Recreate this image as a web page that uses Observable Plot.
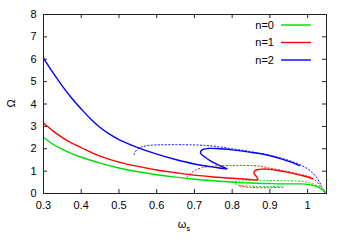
<!DOCTYPE html>
<html><head><meta charset="utf-8">
<script src="https://cdn.jsdelivr.net/npm/d3@7"></script>
<script src="https://cdn.jsdelivr.net/npm/@observablehq/plot@0.6"></script>
<style>
body{margin:0;background:#fff}
svg{font-family:"Liberation Sans",Arial,sans-serif}
</style>
</head><body><div id="chart"></div>
<script>
const omegaTicks = [0.3, 0.4, 0.5, 0.6, 0.7, 0.8, 0.9, 1.0];
const qTicks = [0, 1, 2, 3, 4, 5, 6, 7, 8];
const seriesNames = ["n=0", "n=1", "n=2"];
const seriesColors = ["#00dd00", "#ff0000", "#0000ff"];

// [omega_s, Omega] pairs
const n0Solid = [[0.3,2.5],[0.325,2.2],[0.35,1.97],[0.375,1.78],[0.4,1.62],[0.45,1.36],[0.5,1.14],[0.55,0.97],[0.6,0.84],[0.65,0.73],[0.7,0.64],[0.75,0.57],[0.8,0.51],[0.85,0.47],[0.9,0.44],[0.95,0.43],[0.98,0.43],[1.0,0.41],[1.02,0.34],[1.035,0.22],[1.045,0.1],[1.05,0.0]];
const n0DotA = [[0.79,0.52],[0.82,0.56],[0.86,0.58],[0.9,0.58],[0.95,0.57],[0.99,0.53],[1.01,0.45],[1.03,0.3],[1.045,0.08]];
const n0DotB = [[0.8,0.5],[0.82,0.37],[0.86,0.32],[0.9,0.31],[0.93,0.33]];
const n1Solid = [[0.3,3.15],[0.325,2.8],[0.35,2.5],[0.375,2.25],[0.4,2.05],[0.425,1.85],[0.45,1.67],[0.5,1.4],[0.55,1.21],[0.6,1.05],[0.65,0.93],[0.7,0.82],[0.75,0.74],[0.8,0.68],[0.84,0.64],[0.868,0.62],[0.864,0.76],[0.858,0.9],[0.859,1.0],[0.866,1.06],[0.88,1.09],[0.9,1.08],[0.93,1.0],[0.96,0.9],[0.99,0.78],[1.013,0.66]];
const n1DotTop = [[0.681,0.74],[0.69,0.9],[0.7,1.02],[0.72,1.15],[0.75,1.22],[0.8,1.25],[0.85,1.25],[0.88,1.2],[0.9,1.13],[0.93,1.04],[0.96,0.94],[0.99,0.82],[1.013,0.68],[1.03,0.4],[1.042,0.08]];
const n1DotLow = [[0.82,0.34],[0.85,0.27],[0.9,0.26],[0.94,0.28]];
const n2Solid = [[0.3,6.05],[0.325,5.4],[0.35,4.8],[0.375,4.26],[0.4,3.78],[0.425,3.33],[0.45,2.95],[0.475,2.65],[0.5,2.41],[0.55,2.05],[0.6,1.76],[0.65,1.52],[0.7,1.32],[0.75,1.18],[0.787,1.1],[0.76,1.3],[0.73,1.6],[0.716,1.82],[0.72,1.95],[0.735,2.01],[0.76,2.01],[0.8,1.95],[0.85,1.84],[0.89,1.73],[0.93,1.55],[0.96,1.38],[0.978,1.25]];
const n2Dot = [[0.54,1.74],[0.547,1.95],[0.56,2.08],[0.58,2.15],[0.62,2.18],[0.7,2.17],[0.75,2.12],[0.8,2.0],[0.85,1.87],[0.9,1.7],[0.95,1.48],[0.978,1.3],[1.0,1.1],[1.02,0.8],[1.035,0.4],[1.045,0.05]];

const rows = [];
function add(arr, n, seg, dotted) {
  arr.forEach(([w, q]) => rows.push({n, seg, dotted, w, q}));
}
add(n0DotA, "n=0", "0a", true);
add(n0DotB, "n=0", "0b", true);
add(n1DotTop, "n=1", "1a", true);
add(n1DotLow, "n=1", "1b", true);
add(n2Dot, "n=2", "2a", true);
add(n0Solid, "n=0", "0s", false);
add(n1Solid, "n=1", "1s", false);
add(n2Solid, "n=2", "2s", false);

const W = 346, H = 242, mL = 43, mR = 20, mT = 14, mB = 49;
const pw = W - mL - mR, ph = H - mT - mB;

const chart = Plot.plot({
  width: W, height: H,
  marginLeft: mL, marginRight: mR, marginTop: mT, marginBottom: mB,
  style: {fontFamily: "Liberation Sans, Arial, sans-serif", fontSize: "11px", color: "#000", background: "#fff"},
  x: {domain: [0.3, 1.05]},
  y: {domain: [0, 8]},
  color: {domain: seriesNames, range: seriesColors},
  marks: [
    Plot.line(rows.filter(d => d.dotted), {x: "w", y: "q", z: "seg", stroke: "n", curve: "catmull-rom", strokeWidth: 1, strokeDasharray: "1.2,2.3"}),
    Plot.line(rows.filter(d => !d.dotted), {x: "w", y: "q", z: "seg", stroke: "n", curve: "catmull-rom", strokeWidth: 1.4}),
    Plot.tickX(omegaTicks, {x: d => d, stroke: "#222", insetTop: ph - 4}),
    Plot.tickX(omegaTicks, {x: d => d, stroke: "#222", insetBottom: ph - 4}),
    Plot.tickY(qTicks, {y: d => d, stroke: "#222", insetRight: pw - 4}),
    Plot.tickY(qTicks, {y: d => d, stroke: "#222", insetLeft: pw - 4}),
    Plot.axisX(omegaTicks, {tickSize: 0, tickPadding: 8, tickFormat: d => d3.format("")(d), label: null, fontSize: 11}),
    Plot.axisY(qTicks, {tickSize: 0, tickPadding: 7, label: null, fontSize: 11}),
    Plot.frame({stroke: "#222"})
  ]
});
document.getElementById("chart").appendChild(chart);

const svg = d3.select(chart);
// axis titles
svg.append("text").attr("transform", "translate(14.5,103.5) rotate(-90)")
  .attr("text-anchor", "middle").attr("font-size", 11).attr("fill", "#000").text("Ω");
const xl = svg.append("text").attr("x", 184).attr("y", 227.5).attr("text-anchor", "middle")
  .attr("font-size", 11).attr("fill", "#000");
xl.append("tspan").text("ω");
xl.append("tspan").attr("dy", 3).attr("font-size", 8).text("s");

// legend
const lg = svg.append("g");
seriesNames.forEach((name, i) => {
  const y = mT + 11 + i * 17.5;
  lg.append("text").attr("x", W - mR - 52).attr("y", y).attr("dy", "0.35em")
    .attr("text-anchor", "end").attr("font-size", 11).attr("fill", "#000").text(name);
  lg.append("line").attr("x1", W - mR - 45).attr("x2", W - mR - 15).attr("y1", y).attr("y2", y)
    .attr("stroke", seriesColors[i]).attr("stroke-width", 1.4);
});
</script>
</body></html>
